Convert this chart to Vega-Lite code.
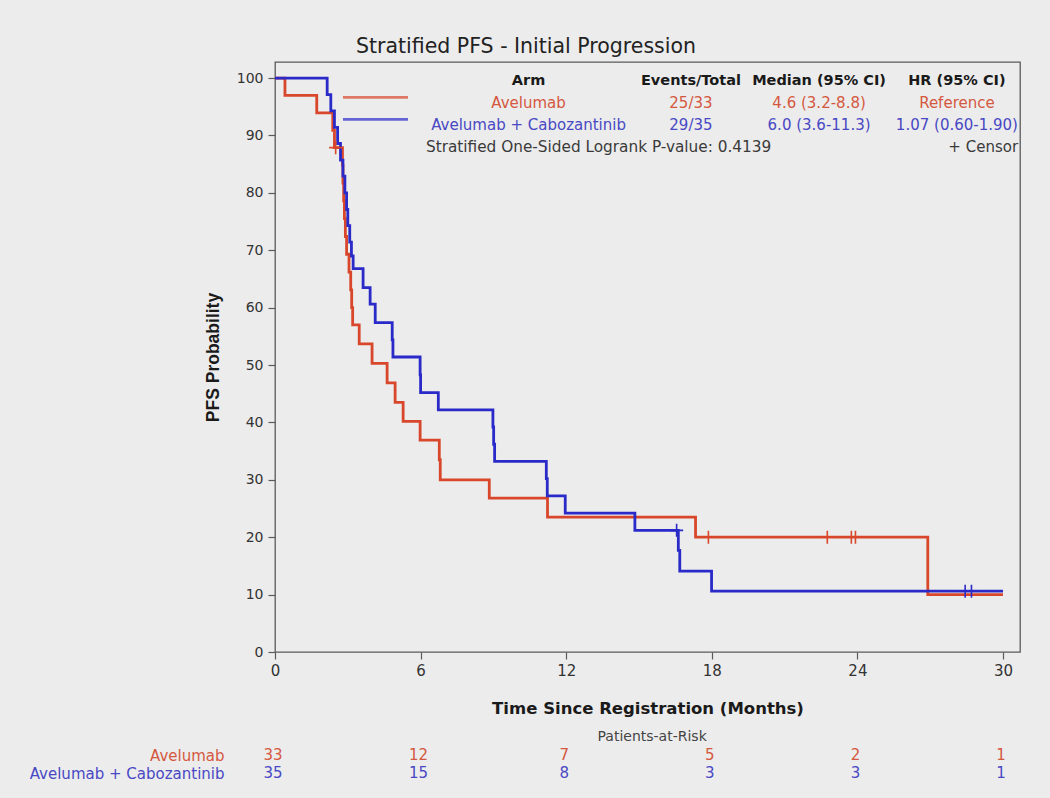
{
  "$schema": "https://vega.github.io/schema/vega-lite/v6.json",
  "width": 745,
  "height": 590,
  "autosize": "none",
  "padding": {"left": 275, "top": 62, "right": 30, "bottom": 146},
  "background": "#ececec",
  "title": {
    "text": "Stratified PFS - Initial Progression",
    "anchor": "middle",
    "frame": "group",
    "dx": -121.5,
    "offset": 5,
    "font": "DejaVu Sans",
    "fontSize": 20.5,
    "fontWeight": "normal",
    "color": "#222222"
  },
  "config": {
    "view": {"stroke": "#5a5a5a", "strokeWidth": 1.3},
    "axis": {
      "grid": false,
      "domain": false,
      "labelFlush": false,
      "tickColor": "#5a5a5a",
      "tickWidth": 1.2,
      "tickSize": 7,
      "labelColor": "#333333",
      "labelFont": "DejaVu Sans",
      "titleColor": "#1a1a1a",
      "titleFontWeight": "bold"
    },
    "text": {"font": "DejaVu Sans"}
  },
  "datasets": {
    "km": [
      {"arm": "Avelumab", "t": 0, "s": 100},
      {"arm": "Avelumab", "t": 0.41, "s": 96.97},
      {"arm": "Avelumab", "t": 1.72, "s": 93.94},
      {"arm": "Avelumab", "t": 2.38, "s": 90.91},
      {"arm": "Avelumab", "t": 2.45, "s": 87.88},
      {"arm": "Avelumab", "t": 2.78, "s": 84.8},
      {"arm": "Avelumab", "t": 2.8, "s": 81.7},
      {"arm": "Avelumab", "t": 2.83, "s": 78.6},
      {"arm": "Avelumab", "t": 2.86, "s": 75.5},
      {"arm": "Avelumab", "t": 2.9, "s": 72.4},
      {"arm": "Avelumab", "t": 2.95, "s": 69.3},
      {"arm": "Avelumab", "t": 3.05, "s": 66.2},
      {"arm": "Avelumab", "t": 3.12, "s": 63.1},
      {"arm": "Avelumab", "t": 3.16, "s": 60.0},
      {"arm": "Avelumab", "t": 3.2, "s": 57.0},
      {"arm": "Avelumab", "t": 3.47, "s": 53.7},
      {"arm": "Avelumab", "t": 4.0, "s": 50.3},
      {"arm": "Avelumab", "t": 4.62, "s": 46.9},
      {"arm": "Avelumab", "t": 4.95, "s": 43.5},
      {"arm": "Avelumab", "t": 5.28, "s": 40.2},
      {"arm": "Avelumab", "t": 5.98, "s": 36.9},
      {"arm": "Avelumab", "t": 6.77, "s": 33.5},
      {"arm": "Avelumab", "t": 6.81, "s": 30.0},
      {"arm": "Avelumab", "t": 8.83, "s": 26.8},
      {"arm": "Avelumab", "t": 11.23, "s": 23.5},
      {"arm": "Avelumab", "t": 17.33, "s": 20.0},
      {"arm": "Avelumab", "t": 26.9, "s": 10.0},
      {"arm": "Avelumab", "t": 30, "s": 10.0},
      {"arm": "Avelumab + Cabozantinib", "t": 0, "s": 100},
      {"arm": "Avelumab + Cabozantinib", "t": 2.15, "s": 97.1},
      {"arm": "Avelumab + Cabozantinib", "t": 2.3, "s": 94.3},
      {"arm": "Avelumab + Cabozantinib", "t": 2.45, "s": 91.4},
      {"arm": "Avelumab + Cabozantinib", "t": 2.58, "s": 88.6},
      {"arm": "Avelumab + Cabozantinib", "t": 2.7, "s": 85.7},
      {"arm": "Avelumab + Cabozantinib", "t": 2.8, "s": 82.9},
      {"arm": "Avelumab + Cabozantinib", "t": 2.88, "s": 80.0},
      {"arm": "Avelumab + Cabozantinib", "t": 2.95, "s": 77.1},
      {"arm": "Avelumab + Cabozantinib", "t": 3.0, "s": 74.3},
      {"arm": "Avelumab + Cabozantinib", "t": 3.08, "s": 71.4},
      {"arm": "Avelumab + Cabozantinib", "t": 3.15, "s": 69.0},
      {"arm": "Avelumab + Cabozantinib", "t": 3.22, "s": 66.8},
      {"arm": "Avelumab + Cabozantinib", "t": 3.63, "s": 63.5},
      {"arm": "Avelumab + Cabozantinib", "t": 3.92, "s": 60.6},
      {"arm": "Avelumab + Cabozantinib", "t": 4.13, "s": 57.4},
      {"arm": "Avelumab + Cabozantinib", "t": 4.83, "s": 54.4},
      {"arm": "Avelumab + Cabozantinib", "t": 4.86, "s": 51.4},
      {"arm": "Avelumab + Cabozantinib", "t": 5.98, "s": 48.3},
      {"arm": "Avelumab + Cabozantinib", "t": 6.0, "s": 45.2},
      {"arm": "Avelumab + Cabozantinib", "t": 6.73, "s": 42.2},
      {"arm": "Avelumab + Cabozantinib", "t": 8.98, "s": 39.2},
      {"arm": "Avelumab + Cabozantinib", "t": 9.01, "s": 36.2},
      {"arm": "Avelumab + Cabozantinib", "t": 9.05, "s": 33.2},
      {"arm": "Avelumab + Cabozantinib", "t": 11.18, "s": 30.2},
      {"arm": "Avelumab + Cabozantinib", "t": 11.22, "s": 27.2},
      {"arm": "Avelumab + Cabozantinib", "t": 11.96, "s": 24.2},
      {"arm": "Avelumab + Cabozantinib", "t": 14.83, "s": 21.2},
      {"arm": "Avelumab + Cabozantinib", "t": 16.62, "s": 17.7},
      {"arm": "Avelumab + Cabozantinib", "t": 16.68, "s": 14.1},
      {"arm": "Avelumab + Cabozantinib", "t": 17.99, "s": 10.6},
      {"arm": "Avelumab + Cabozantinib", "t": 30, "s": 10.6}
    ],
    "censor": [
      {"arm": "Avelumab", "t": 2.5, "s": 87.88},
      {"arm": "Avelumab", "t": 17.86, "s": 20.0},
      {"arm": "Avelumab", "t": 22.76, "s": 20.0},
      {"arm": "Avelumab", "t": 23.75, "s": 20.0},
      {"arm": "Avelumab", "t": 23.92, "s": 20.0},
      {"arm": "Avelumab + Cabozantinib", "t": 16.55, "s": 21.2},
      {"arm": "Avelumab + Cabozantinib", "t": 28.44, "s": 10.6},
      {"arm": "Avelumab + Cabozantinib", "t": 28.7, "s": 10.6}
    ],
    "stats": [
      {"row": "head", "col": "arm", "label": "Arm"},
      {"row": "head", "col": "events", "label": "Events/Total"},
      {"row": "head", "col": "median", "label": "Median (95% CI)"},
      {"row": "head", "col": "hr", "label": "HR (95% CI)"},
      {"row": "Avelumab", "col": "arm", "label": "Avelumab"},
      {"row": "Avelumab", "col": "events", "label": "25/33"},
      {"row": "Avelumab", "col": "median", "label": "4.6 (3.2-8.8)"},
      {"row": "Avelumab", "col": "hr", "label": "Reference"},
      {"row": "Avelumab + Cabozantinib", "col": "arm", "label": "Avelumab + Cabozantinib"},
      {"row": "Avelumab + Cabozantinib", "col": "events", "label": "29/35"},
      {"row": "Avelumab + Cabozantinib", "col": "median", "label": "6.0 (3.6-11.3)"},
      {"row": "Avelumab + Cabozantinib", "col": "hr", "label": "1.07 (0.60-1.90)"},
      {"row": "note", "col": "pval", "label": "Stratified One-Sided Logrank P-value: 0.4139"},
      {"row": "note", "col": "cens", "label": "+ Censor"}
    ],
    "risk": [
      {"arm": "Avelumab", "t": 0, "n": 33},
      {"arm": "Avelumab", "t": 6, "n": 12},
      {"arm": "Avelumab", "t": 12, "n": 7},
      {"arm": "Avelumab", "t": 18, "n": 5},
      {"arm": "Avelumab", "t": 24, "n": 2},
      {"arm": "Avelumab", "t": 30, "n": 1},
      {"arm": "Avelumab + Cabozantinib", "t": 0, "n": 35},
      {"arm": "Avelumab + Cabozantinib", "t": 6, "n": 15},
      {"arm": "Avelumab + Cabozantinib", "t": 12, "n": 8},
      {"arm": "Avelumab + Cabozantinib", "t": 18, "n": 3},
      {"arm": "Avelumab + Cabozantinib", "t": 24, "n": 3},
      {"arm": "Avelumab + Cabozantinib", "t": 30, "n": 1}
    ]
  },
  "layer": [
    {
      "data": {"name": "km"},
      "layer": [
        {
          "mark": {"type": "line", "interpolate": "step-after", "strokeWidth": 2.8},
          "encoding": {
            "x": {
              "field": "t", "type": "quantitative",
              "scale": {"domain": [0, 30.7], "nice": false, "zero": false},
              "axis": {
                "orient": "bottom",
                "values": [0, 6, 12, 18, 24, 30],
                "title": "Time Since Registration (Months)",
                "labelFontSize": 15, "labelPadding": 4,
                "titleFont": "DejaVu Sans", "titleFontSize": 16.5, "titlePadding": 22
              }
            },
            "y": {
              "field": "s", "type": "quantitative",
              "scale": {"domain": [0, 102.8], "nice": false},
              "axis": {
                "orient": "left",
                "values": [0, 10, 20, 30, 40, 50, 60, 70, 80, 90, 100],
                "title": "PFS Probability",
                "labelFontSize": 14, "labelPadding": 5,
                "titleFont": "Liberation Sans", "titleFontSize": 17.5, "titlePadding": 14
              }
            },
            "color": {
              "field": "arm", "type": "nominal",
              "scale": {"domain": ["Avelumab", "Avelumab + Cabozantinib"], "range": ["#d8472b", "#2a2ac9"]},
              "legend": null
            }
          }
        },
        {
          "data": {"name": "censor"},
          "mark": {"type": "point", "shape": "M-1,0L1,0M0,-1L0,1", "filled": false, "size": 170, "strokeWidth": 1.6, "opacity": 1},
          "encoding": {
            "x": {"field": "t", "type": "quantitative"},
            "y": {"field": "s", "type": "quantitative"},
            "color": {"field": "arm", "type": "nominal"}
          }
        }
      ]
    },
    {
      "data": {"name": "stats"},
      "layer": [
        {
          "transform": [{"filter": "datum.col === 'arm' && datum.row !== 'head'"}],
          "mark": {"type": "tick", "orient": "horizontal", "size": 65, "thickness": 2.8, "yOffset": -5.5},
          "encoding": {
            "x": {"datum": 4.14},
            "y": {"field": "row", "type": "nominal", "scale": {"type": "point", "domain": ["head", "Avelumab", "Avelumab + Cabozantinib", "note"], "range": [18.7, 85], "padding": 0}, "axis": null},
            "color": {"condition": {"test": "datum.row === 'Avelumab'", "value": "#d8472b"}, "value": "#2a2ac9"}
          }
        },
        {
          "transform": [{"filter": "datum.col === 'arm' && datum.row === 'head'"}],
          "mark": {"type": "text", "fontSize": 14.5, "fontWeight": "bold", "color": "#1a1a1a"},
          "encoding": {
            "x": {"datum": 10.45},
            "y": {"field": "row", "type": "nominal", "scale": {"type": "point", "domain": ["head", "Avelumab", "Avelumab + Cabozantinib", "note"], "range": [18.7, 85], "padding": 0}, "axis": null},
            "text": {"field": "label"}
          }
        },
        {
          "transform": [{"filter": "datum.col === 'arm' && datum.row !== 'head'"}],
          "mark": {"type": "text", "fontSize": 15},
          "encoding": {
            "x": {"datum": 10.45},
            "y": {"field": "row", "type": "nominal", "scale": {"type": "point", "domain": ["head", "Avelumab", "Avelumab + Cabozantinib", "note"], "range": [18.7, 85], "padding": 0}, "axis": null},
            "text": {"field": "label"},
            "color": {"condition": {"test": "datum.row === 'Avelumab'", "value": "#d4583f"}, "value": "#4848c4"}
          }
        },
        {
          "transform": [{"filter": "datum.col === 'events' && datum.row === 'head'"}],
          "mark": {"type": "text", "fontSize": 14.5, "fontWeight": "bold", "color": "#1a1a1a"},
          "encoding": {
            "x": {"datum": 17.14},
            "y": {"field": "row", "type": "nominal", "scale": {"type": "point", "domain": ["head", "Avelumab", "Avelumab + Cabozantinib", "note"], "range": [18.7, 85], "padding": 0}, "axis": null},
            "text": {"field": "label"}
          }
        },
        {
          "transform": [{"filter": "datum.col === 'events' && datum.row !== 'head'"}],
          "mark": {"type": "text", "fontSize": 15},
          "encoding": {
            "x": {"datum": 17.14},
            "y": {"field": "row", "type": "nominal", "scale": {"type": "point", "domain": ["head", "Avelumab", "Avelumab + Cabozantinib", "note"], "range": [18.7, 85], "padding": 0}, "axis": null},
            "text": {"field": "label"},
            "color": {"condition": {"test": "datum.row === 'Avelumab'", "value": "#d4583f"}, "value": "#4848c4"}
          }
        },
        {
          "transform": [{"filter": "datum.col === 'median' && datum.row === 'head'"}],
          "mark": {"type": "text", "fontSize": 14.5, "fontWeight": "bold", "color": "#1a1a1a"},
          "encoding": {
            "x": {"datum": 22.42},
            "y": {"field": "row", "type": "nominal", "scale": {"type": "point", "domain": ["head", "Avelumab", "Avelumab + Cabozantinib", "note"], "range": [18.7, 85], "padding": 0}, "axis": null},
            "text": {"field": "label"}
          }
        },
        {
          "transform": [{"filter": "datum.col === 'median' && datum.row !== 'head'"}],
          "mark": {"type": "text", "fontSize": 15},
          "encoding": {
            "x": {"datum": 22.42},
            "y": {"field": "row", "type": "nominal", "scale": {"type": "point", "domain": ["head", "Avelumab", "Avelumab + Cabozantinib", "note"], "range": [18.7, 85], "padding": 0}, "axis": null},
            "text": {"field": "label"},
            "color": {"condition": {"test": "datum.row === 'Avelumab'", "value": "#d4583f"}, "value": "#4848c4"}
          }
        },
        {
          "transform": [{"filter": "datum.col === 'hr' && datum.row === 'head'"}],
          "mark": {"type": "text", "fontSize": 14.5, "fontWeight": "bold", "color": "#1a1a1a"},
          "encoding": {
            "x": {"datum": 28.1},
            "y": {"field": "row", "type": "nominal", "scale": {"type": "point", "domain": ["head", "Avelumab", "Avelumab + Cabozantinib", "note"], "range": [18.7, 85], "padding": 0}, "axis": null},
            "text": {"field": "label"}
          }
        },
        {
          "transform": [{"filter": "datum.col === 'hr' && datum.row !== 'head'"}],
          "mark": {"type": "text", "fontSize": 15},
          "encoding": {
            "x": {"datum": 28.1},
            "y": {"field": "row", "type": "nominal", "scale": {"type": "point", "domain": ["head", "Avelumab", "Avelumab + Cabozantinib", "note"], "range": [18.7, 85], "padding": 0}, "axis": null},
            "text": {"field": "label"},
            "color": {"condition": {"test": "datum.row === 'Avelumab'", "value": "#d4583f"}, "value": "#4848c4"}
          }
        },
        {
          "transform": [{"filter": "datum.col === 'pval'"}],
          "mark": {"type": "text", "fontSize": 15.3, "align": "left", "color": "#3a3a3a"},
          "encoding": {
            "x": {"datum": 6.22},
            "y": {"field": "row", "type": "nominal", "scale": {"type": "point", "domain": ["head", "Avelumab", "Avelumab + Cabozantinib", "note"], "range": [18.7, 85], "padding": 0}, "axis": null},
            "text": {"field": "label"}
          }
        },
        {
          "transform": [{"filter": "datum.col === 'cens'"}],
          "mark": {"type": "text", "fontSize": 15, "align": "right", "color": "#3a3a3a"},
          "encoding": {
            "x": {"datum": 30.62},
            "y": {"field": "row", "type": "nominal", "scale": {"type": "point", "domain": ["head", "Avelumab", "Avelumab + Cabozantinib", "note"], "range": [18.7, 85], "padding": 0}, "axis": null},
            "text": {"field": "label"}
          }
        }
      ]
    },
    {
      "layer": [
        {
          "data": {"name": "risk"},
          "mark": {"type": "text", "fontSize": 15, "dx": -2},
          "encoding": {
            "x": {"field": "t", "type": "quantitative"},
            "y": {
              "field": "arm", "type": "nominal",
              "scale": {"type": "point", "domain": ["Patients-at-Risk", "Avelumab", "Avelumab + Cabozantinib"], "range": [675, 711], "padding": 0},
              "axis": {
                "orient": "left", "title": null, "domain": false, "ticks": false,
                "labelPadding": 51, "labelFontSize": 15, "labelLimit": 400,
                "labelExpr": "datum.value === 'Patients-at-Risk' ? '' : datum.value",
                "labelColor": {"condition": {"test": "datum.value === 'Avelumab'", "value": "#d4583f"}, "value": "#4848c4"}
              }
            },
            "text": {"field": "n", "type": "quantitative"},
            "color": {"condition": {"test": "datum.arm === 'Avelumab'", "value": "#d4583f"}, "value": "#4848c4"}
          }
        },
        {
          "data": {"values": [{"label": "Patients-at-Risk"}]},
          "mark": {"type": "text", "fontSize": 14, "color": "#444444"},
          "encoding": {
            "x": {"datum": 15.54},
            "y": {"datum": "Patients-at-Risk", "type": "nominal"},
            "text": {"field": "label"}
          }
        }
      ]
    }
  ],
  "resolve": {"scale": {"y": "independent"}}
}
